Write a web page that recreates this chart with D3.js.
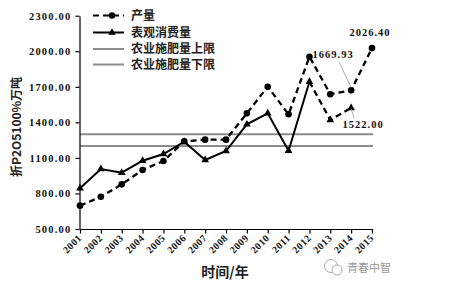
<!DOCTYPE html>
<html>
<head>
<meta charset="utf-8">
<script src="https://cdn.jsdelivr.net/npm/d3@7"></script>
<style>
    body { margin: 0; background: #fff; }
    .num { font-family: 'Liberation Serif', 'DejaVu Serif', serif; font-weight: bold; }
    .cjk { font-family: 'Noto Sans CJK SC', sans-serif; font-weight: bold; }
</style>
</head>
<body>
<svg id="chart" width="452" height="294"></svg>
<script>

var years = d3.range(2001, 2016);
var yTicks = [500, 800, 1100, 1400, 1700, 2000, 2300];

// 产量 (2001-2015)
var production = [697, 772, 877, 998, 1074, 1240, 1254, 1254, 1476, 1701, 1468, 1954, 1637, 1669.93, 2026.40];
// 表观消费量 (2001-2014)
var consumption = [843, 1006, 975, 1076, 1133, 1237, 1082, 1158, 1383, 1476, 1161, 1743, 1420, 1522.00];
var dashedFrom = 2012;

var upperLimit = 1300;
var lowerLimit = 1200;

var seriesNames = ['产量', '表观消费量', '农业施肥量上限', '农业施肥量下限'];
var labelled = [
    {'year': 2014, 'value': 1669.93, 'dx': -18, 'dy': -32, 'lead': true},
    {'year': 2014, 'value': 1522.00, 'dx': 12, 'dy': 20, 'lead': true},
    {'year': 2015, 'value': 2026.40, 'dx': -2, 'dy': -12, 'lead': false}
];

function initChart() {

    var svg = d3.select('#chart');

    var x = d3.scalePoint().domain(years).range([80, 372]);
    var y = d3.scaleLinear().domain([500, 2300]).range([229, 15.7]);

    // limit lines
    svg.selectAll('line.limit')
        .data([upperLimit, lowerLimit])
        .enter().append('line')
        .attr('class', 'limit')
        .attr('x1', 80).attr('x2', 373)
        .attr('y1', function(d) {return y(d); })
        .attr('y2', function(d) {return y(d); })
        .style('stroke', '#8c8c8c')
        .style('stroke-width', 2);

    // axes
    var yAxis = d3.axisLeft(y).tickValues(yTicks).tickSize(4).tickSizeOuter(0)
        .tickFormat(function(d) {return d3.format('.2f')(d); });
    svg.append('g')
        .attr('transform', 'translate(79.5,0)')
        .call(yAxis)
        .call(function(g) {
            g.selectAll('path, line').style('stroke', '#000').style('stroke-width', 1.2);
            g.selectAll('text').attr('class', 'num').attr('x', -8)
                .style('font-size', '10.5px').style('letter-spacing', '1.2px').style('fill', '#111');
        });

    var xAxis = d3.axisBottom(x).tickSize(4).tickSizeOuter(0);
    svg.append('g')
        .attr('transform', 'translate(0,229.5)')
        .call(xAxis)
        .call(function(g) {
            g.select('.domain').attr('d', 'M80,0H373');
            g.selectAll('path, line').style('stroke', '#000').style('stroke-width', 1.2);
            g.selectAll('text').attr('class', 'num')
                .attr('text-anchor', 'end')
                .attr('dy', 0).attr('y', 0)
                .attr('transform', 'translate(2,9) rotate(-45)')
                .style('font-size', '10px').style('letter-spacing', '0.5px').style('fill', '#111');
        });

    // production line
    var line = d3.line()
        .x(function(d) {return x(d.year); })
        .y(function(d) {return y(d.value); });

    var prodData = years.map(function(yr, i) {return {'year': yr, 'value': production[i]}; });
    var consData = consumption.map(function(v, i) {return {'year': years[i], 'value': v}; });

    svg.append('path')
        .datum(prodData)
        .attr('d', line)
        .style('fill', 'none').style('stroke', '#000')
        .style('stroke-width', 2.3).style('stroke-dasharray', '6,4');

    svg.append('path')
        .datum(consData.filter(function(d) {return d.year <= dashedFrom; }))
        .attr('d', line)
        .style('fill', 'none').style('stroke', '#000').style('stroke-width', 2);

    svg.append('path')
        .datum(consData.filter(function(d) {return d.year >= dashedFrom; }))
        .attr('d', line)
        .style('fill', 'none').style('stroke', '#000')
        .style('stroke-width', 2.3).style('stroke-dasharray', '6,4');

    var tri = d3.symbol().type(d3.symbolTriangle).size(26);

    svg.selectAll('path.tri')
        .data(consData)
        .enter().append('path')
        .attr('class', 'tri')
        .attr('d', tri)
        .attr('transform', function(d) {return 'translate(' + x(d.year) + ',' + y(d.value) + ')'; })
        .style('fill', '#000');

    svg.selectAll('circle.dot')
        .data(prodData)
        .enter().append('circle')
        .attr('class', 'dot')
        .attr('r', 3.3)
        .attr('cx', function(d) {return x(d.year); })
        .attr('cy', function(d) {return y(d.value); })
        .style('fill', '#000');

    // value labels
    labelled.forEach(function(l) {
        var px = x(l.year), py = y(l.value);
        if (l.lead) {
            var ty = l.dy < 0 ? py + l.dy + 4 : py + l.dy - 10;
            svg.append('line')
                .attr('x1', px + (l.dy < 0 ? -12 : 3)).attr('y1', ty)
                .attr('x2', px).attr('y2', py + (l.dy < 0 ? -3 : 1))
                .style('stroke', '#999').style('stroke-width', 0.8);
        }
        svg.append('text')
            .attr('class', 'num')
            .attr('x', px + l.dx).attr('y', py + l.dy)
            .attr('text-anchor', 'middle')
            .style('font-size', '10.5px').style('letter-spacing', '1px').style('fill', '#111')
            .text(d3.format('.2f')(l.value));
    });

    initLegend(svg);

    // titles
    svg.append('text')
        .attr('class', 'cjk')
        .attr('transform', 'translate(21,127) rotate(-90)')
        .attr('text-anchor', 'middle')
        .style('font-size', '12px').style('fill', '#222')
        .text('折P2O5100%万吨');

    svg.append('text')
        .attr('class', 'cjk')
        .attr('x', 225).attr('y', 277)
        .attr('text-anchor', 'middle')
        .style('font-size', '14px').style('fill', '#222')
        .text('时间/年');

    // watermark
    var wm = svg.append('g').attr('transform', 'translate(333,268)');
    wm.append('circle').attr('r', 6.5).attr('cx', -2).attr('cy', -2)
        .style('fill', 'none').style('stroke', '#aaa').style('stroke-width', 1);
    wm.append('circle').attr('r', 5).attr('cx', 4).attr('cy', 2)
        .style('fill', '#fff').style('stroke', '#aaa').style('stroke-width', 1);
    wm.append('text')
        .attr('x', 14).attr('y', 4)
        .style('font-family', "'Noto Sans CJK SC', sans-serif")
        .style('font-size', '11px').style('fill', '#999')
        .text('青春中智');
}

function initLegend(svg) {

    var rowY = [15.5, 32.5, 49, 64.5];
    var g = svg.append('g').attr('id', 'legend');

    var rows = g.selectAll('g')
        .data(seriesNames)
        .enter().append('g')
        .attr('transform', function(d, i) {return 'translate(93,' + rowY[i] + ')'; });

    rows.append('line')
        .attr('x1', 0).attr('x2', 31)
        .style('stroke', function(d, i) {return i < 2 ? '#000' : '#8c8c8c'; })
        .style('stroke-width', 2)
        .style('stroke-dasharray', function(d, i) {return i == 0 ? '6,4' : null; });

    rows.filter(function(d, i) {return i == 0; })
        .append('circle').attr('cx', 19).attr('r', 3.2).style('fill', '#000');
    rows.filter(function(d, i) {return i == 1; })
        .append('path').attr('d', d3.symbol().type(d3.symbolTriangle).size(24))
        .attr('transform', 'translate(19,0)').style('fill', '#000');

    rows.append('text')
        .attr('class', 'cjk')
        .attr('x', 38).attr('y', 4)
        .style('font-size', '12px').style('fill', '#222')
        .text(function(d) {return d; });
}

initChart();

</script>
</body>
</html>
